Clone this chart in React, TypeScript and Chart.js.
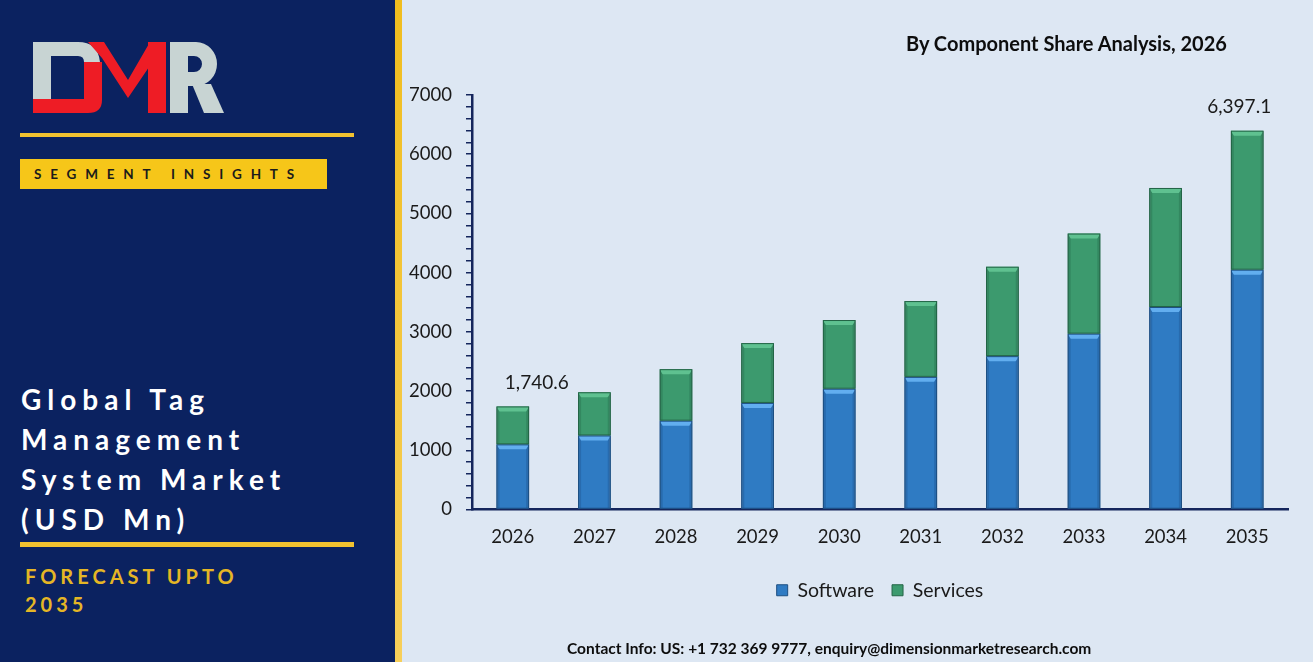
import React, { useEffect, useRef } from "react";
import { Chart, registerables } from "chart.js";

Chart.register(...registerables);

// Market size by component, USD Mn
const years = ["2026", "2027", "2028", "2029", "2030", "2031", "2032", "2033", "2034", "2035"];
const software = [1100, 1250, 1500, 1800, 2040, 2240, 2590, 2970, 3420, 4050];
const services = [640.6, 730, 870, 1010, 1160, 1280, 1510, 1690, 2010, 2347.1];
const totalLabels = ["1,740.6", "", "", "", "", "", "", "", "", "6,397.1"];
const seriesNames = ["Software", "Services"];

const FONT = "Lato, 'Open Sans', sans-serif";

// Bevelled look for each bar segment: light top edge, darker sides
const bevelPlugin = {
  id: "bevel",
  afterDatasetsDraw(chart: any) {
    const ctx = chart.ctx;
    const tones = [
      { light: "#62aeef", dark: "#235f9c", edge: "#1d4f82" },
      { light: "#5fc190", dark: "#2b7a55", edge: "#236446" },
    ];
    chart.data.datasets.forEach((_: any, di: number) => {
      const meta = chart.getDatasetMeta(di);
      const t = tones[di];
      meta.data.forEach((bar: any) => {
        const p = bar.getProps(["x", "y", "base", "width"], true);
        const l = p.x - p.width / 2;
        const r = p.x + p.width / 2;
        const top = Math.min(p.y, p.base);
        const bot = Math.max(p.y, p.base);
        const b = 5;
        const s = 3;
        ctx.save();
        // side shading
        ctx.fillStyle = t.dark;
        ctx.globalAlpha = 0.55;
        ctx.beginPath();
        ctx.moveTo(l, top);
        ctx.lineTo(l + s, top + b);
        ctx.lineTo(l + s, bot);
        ctx.lineTo(l, bot);
        ctx.closePath();
        ctx.fill();
        ctx.beginPath();
        ctx.moveTo(r, top);
        ctx.lineTo(r - s, top + b);
        ctx.lineTo(r - s, bot);
        ctx.lineTo(r, bot);
        ctx.closePath();
        ctx.fill();
        // top highlight
        ctx.globalAlpha = 1;
        ctx.fillStyle = t.light;
        ctx.beginPath();
        ctx.moveTo(l, top);
        ctx.lineTo(r, top);
        ctx.lineTo(r - s, top + b);
        ctx.lineTo(l + s, top + b);
        ctx.closePath();
        ctx.fill();
        // outline
        ctx.strokeStyle = t.edge;
        ctx.lineWidth = 1;
        ctx.strokeRect(l + 0.5, top + 0.5, p.width - 1, bot - top - 1);
        ctx.restore();
      });
    });
  },
};

// Totals written above the first and last stacks
const totalsPlugin = {
  id: "totals",
  afterDraw(chart: any) {
    const ctx = chart.ctx;
    const yScale = chart.scales.y;
    const meta = chart.getDatasetMeta(1);
    ctx.save();
    ctx.font = `19px ${FONT}`;
    ctx.fillStyle = "#1a1a1a";
    ctx.textAlign = "center";
    ctx.textBaseline = "middle";
    totalLabels.forEach((txt, i) => {
      if (!txt) return;
      const total = software[i] + services[i];
      const x = meta.data[i].x + (i === 0 ? 24 : -8);
      const y = yScale.getPixelForValue(total) - 24;
      ctx.fillText(txt, x, y);
    });
    ctx.restore();
  },
};

function BarChart() {
  const ref = useRef<HTMLCanvasElement | null>(null);
  useEffect(() => {
    if (!ref.current) return;
    const axisColor = "#15265c";
    const chart = new Chart(ref.current, {
      type: "bar",
      data: {
        labels: years,
        datasets: [
          {
            label: seriesNames[0],
            data: software,
            backgroundColor: "#2f7bc3",
            borderColor: "#1d4f82",
            borderWidth: 1,
          },
          {
            label: seriesNames[1],
            data: services,
            backgroundColor: "#3c9a6e",
            borderColor: "#236446",
            borderWidth: 1,
          },
        ],
      },
      options: {
        animation: false,
        responsive: false,
        maintainAspectRatio: false,
        datasets: { bar: { categoryPercentage: 1, barPercentage: 0.4 } },
        layout: { padding: { top: 95, right: 25, bottom: 51, left: 0 } },
        plugins: {
          tooltip: { enabled: false },
          title: { display: false },
          legend: {
            position: "bottom",
            fullSize: false,
            labels: {
              boxWidth: 11,
              boxHeight: 11,
              padding: 18,
              color: "#1a1a1a",
              font: { family: FONT, size: 19.5 },
            },
          },
        },
        scales: {
          x: {
            stacked: true,
            grid: { display: false, drawTicks: false },
            border: { display: true, color: axisColor, width: 2.5 },
            ticks: { color: "#1a1a1a", font: { family: FONT, size: 18.5 }, padding: 16 },
            afterFit: (s: any) => {
              s.height = 53;
            },
          },
          y: {
            stacked: true,
            min: 0,
            max: 7000,
            grid: { drawOnChartArea: false, drawTicks: true, tickLength: 6, color: axisColor, lineWidth: 1.5 },
            border: { display: true, color: axisColor, width: 2.5 },
            ticks: {
              stepSize: 200,
              autoSkip: false,
              color: "#1a1a1a",
              font: { family: FONT, size: 18.5 },
              padding: 14,
              callback: (v: any) => (Number(v) % 1000 === 0 ? String(v) : ""),
            },
            afterFit: (s: any) => {
              s.width = 70;
            },
          },
        },
      },
      plugins: [bevelPlugin, totalsPlugin],
    });
    return () => chart.destroy();
  }, []);
  return <canvas ref={ref} width={911} height={661} style={{ position: "absolute", left: 402, top: 0 }} />;
}

function Logo() {
  const gray = "#c8d4d3";
  const red = "#ee1c25";
  return (
    <svg width={240} height={130} style={{ position: "absolute", left: 0, top: 0 }}>
      {/* D */}
      <path d="M33 42 H78 Q98 42 100 62 H84 Q84 56 78 56 H51 V99 H33 Z" fill={gray} />
      <path d="M84 62 H102 V100 Q102 113 88 113 H33 V99 H84 Z" fill={red} />
      {/* M */}
      <polygon points="88,42 104,42 128,80 150,42 166,42 128,98 102,58" fill={red} />
      <rect x={148} y={42} width={18} height={71} fill={red} />
      {/* R */}
      <path
        fillRule="evenodd"
        d="M170 42 H196 A21 22 0 0 1 196 86 H188 V113 H170 Z M188 56 H194 A8 8 0 0 1 194 72 H188 Z"
        fill={gray}
      />
      <polygon points="192,84 211,84 224,113 204,113" fill={gray} />
    </svg>
  );
}

export default function App() {
  const titleLines = ["Global Tag", "Management", "System Market", "(USD Mn)"];
  return (
    <div style={{ position: "absolute", left: 0, top: 0, width: 1313, height: 668, background: "#ffffff", overflow: "hidden" }}>
      {/* side panel */}
      <div style={{ position: "absolute", left: 0, top: 0, width: 395, height: 662, background: "#0b2260" }}>
        <Logo />
        <div style={{ position: "absolute", left: 20, top: 133, width: 334, height: 4, background: "#f2c230" }} />
        <div
          style={{
            position: "absolute",
            left: 20,
            top: 159,
            width: 307,
            height: 30,
            background: "#f6c619",
          }}
        >
          <div
            style={{
              position: "absolute",
              left: 14,
              top: 0,
              lineHeight: "31px",
              fontFamily: FONT,
              fontWeight: 700,
              fontSize: 13.5,
              letterSpacing: 8.8,
              color: "#1b1b1b",
              whiteSpace: "nowrap",
            }}
          >
            SEGMENT INSIGHTS
          </div>
        </div>
        {titleLines.map((t, i) => (
          <div
            key={t}
            style={{
              position: "absolute",
              left: 21,
              top: 380 + i * 40,
              lineHeight: "38px",
              fontFamily: FONT,
              fontWeight: 700,
              fontSize: 28,
              letterSpacing: 6,
              color: "#ffffff",
              whiteSpace: "nowrap",
            }}
          >
            {t}
          </div>
        ))}
        <div style={{ position: "absolute", left: 20, top: 542, width: 334, height: 5, background: "#f2c230" }} />
        {["FORECAST UPTO", "2035"].map((t, i) => (
          <div
            key={t}
            style={{
              position: "absolute",
              left: 25,
              top: 562 + i * 28,
              lineHeight: "28px",
              fontFamily: FONT,
              fontWeight: 700,
              fontSize: 20,
              letterSpacing: 4,
              color: "#e5b625",
              whiteSpace: "nowrap",
            }}
          >
            {t}
          </div>
        ))}
      </div>
      <div style={{ position: "absolute", left: 395, top: 0, width: 7, height: 662, background: "linear-gradient(#f0bd1e, #f7cf5a)" }} />
      {/* chart panel */}
      <div style={{ position: "absolute", left: 402, top: 0, width: 911, height: 662, background: "#dde7f3" }} />
      <BarChart />
      <div
        style={{
          position: "absolute",
          left: 906,
          top: 29,
          lineHeight: "28px",
          fontFamily: FONT,
          fontWeight: 700,
          fontSize: 20,
          color: "#0d0d0d",
          whiteSpace: "nowrap",
        }}
      >
        By Component Share Analysis, 2026
      </div>
      <div
        style={{
          position: "absolute",
          left: 567,
          top: 637,
          lineHeight: "22px",
          fontFamily: FONT,
          fontWeight: 700,
          fontSize: 15.5,
          color: "#0d0d0d",
          whiteSpace: "nowrap",
        }}
      >
        Contact Info: US: +1 732 369 9777, enquiry@dimensionmarketresearch.com
      </div>
    </div>
  );
}
